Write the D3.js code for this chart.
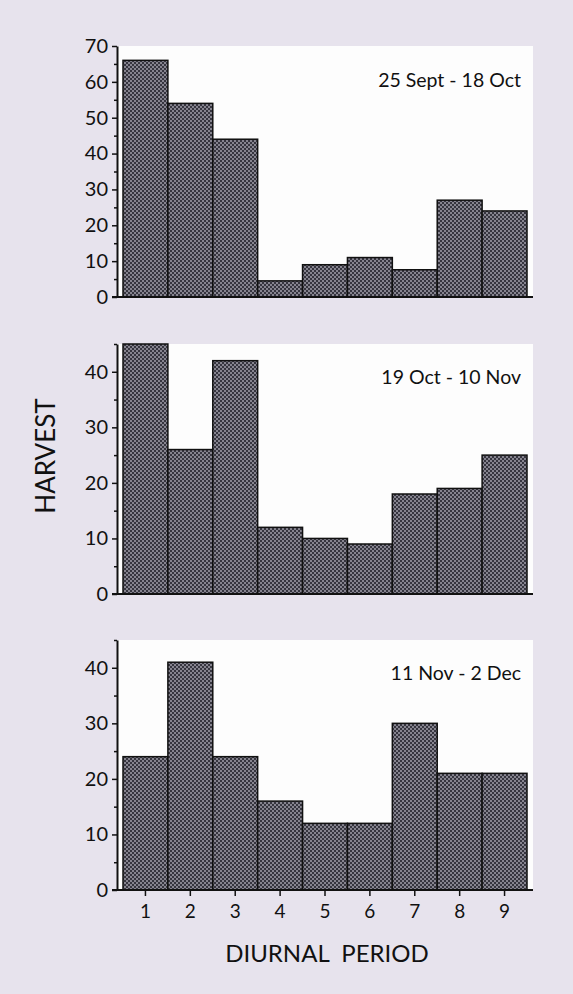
<!DOCTYPE html>
<html>
<head>
<meta charset="utf-8">
<script src="https://cdn.jsdelivr.net/npm/d3@7"></script>
<style>
  body { margin: 0; background: #e7e3ed; }
  svg { display: block; }
  text { font-family: Lato, "Open Sans", sans-serif; fill: #111; }
</style>
</head>
<body>
<svg width="573" height="994"></svg>
<script>
(function (d3) {
    'use strict';

    // diurnal periods (x categories)
    const periods = [1, 2, 3, 4, 5, 6, 7, 8, 9];

    // harvest per period, one series per date window
    const harvestSepOct = [66, 54, 44, 4.5, 9, 11, 7.6, 27, 24];
    const harvestOctNov = [45, 26, 42, 12, 10, 9, 18, 19, 25];
    const harvestNovDec = [24, 41, 24, 16, 12, 12, 30, 21, 21];

    const panelTitles = ['25 Sept - 18 Oct', '19 Oct - 10 Nov', '11 Nov - 2 Dec'];
    const yMaxes = [70, 45, 45];
    const yLabelTicks = [[0, 10, 20, 30, 40, 50, 60, 70], [0, 10, 20, 30, 40], [0, 10, 20, 30, 40]];
    const yMinorTicks = [[5, 15, 25, 35, 45, 55, 65], [5, 15, 25, 35, 45], [5, 15, 25, 35, 45]];

    const series = [harvestSepOct, harvestOctNov, harvestNovDec];

    const svg = d3.select('svg');

    // stippled fill like the scanned print
    const defs = svg.append('defs');
    const pat = defs.append('pattern')
        .attr('id', 'stipple')
        .attr('width', 4).attr('height', 4)
        .attr('patternUnits', 'userSpaceOnUse');
    pat.append('rect').attr('width', 4).attr('height', 4).attr('fill', '#86848f');
    pat.append('rect').attr('width', 2).attr('height', 2).attr('fill', '#36353f');
    pat.append('rect').attr('x', 2).attr('y', 2).attr('width', 2).attr('height', 2).attr('fill', '#36353f');

    const axisX = 117;
    const plotRight = 533;
    const panels = [
        { top: 46, bottom: 297 },
        { top: 344, bottom: 594 },
        { top: 640, bottom: 890 }
    ];

    const x = d3.scaleBand()
        .domain(periods)
        .range([123, 527])
        .padding(0);

    panels.forEach((p, i) => {
        const y = d3.scaleLinear().domain([0, yMaxes[i]]).range([p.bottom, p.top]);
        const g = svg.append('g');

        // white plot area
        g.append('rect')
            .attr('x', axisX + 1).attr('y', p.top)
            .attr('width', plotRight - axisX - 1).attr('height', p.bottom - p.top)
            .attr('fill', '#fdfdfd');

        g.selectAll('rect.bar')
            .data(periods.map((d, j) => ({ period: d, value: series[i][j] })))
            .enter().append('rect')
            .attr('class', 'bar')
            .attr('x', d => x(d.period))
            .attr('y', d => y(d.value))
            .attr('width', x.bandwidth())
            .attr('height', d => p.bottom - y(d.value))
            .attr('fill', 'url(#stipple)')
            .attr('stroke', '#111')
            .attr('stroke-width', 1.5);

        // minor ticks
        g.append('g')
            .attr('transform', `translate(${axisX},0)`)
            .call(d3.axisLeft(y).tickValues(yMinorTicks[i]).tickSize(3).tickFormat(''))
            .call(a => a.select('.domain').remove())
            .call(a => a.selectAll('line').attr('stroke', '#111').attr('stroke-width', 1.5));

        // labelled ticks
        g.append('g')
            .attr('transform', `translate(${axisX},0)`)
            .call(d3.axisLeft(y).tickValues(yLabelTicks[i]).tickSize(5).tickPadding(4).tickSizeOuter(0))
            .call(a => a.select('.domain').attr('stroke', '#111').attr('stroke-width', 2))
            .call(a => a.selectAll('line').attr('stroke', '#111').attr('stroke-width', 1.5))
            .call(a => a.selectAll('text').attr('font-size', 20).attr('font-family', 'Lato, sans-serif').attr('fill', '#111'));

        // baseline
        g.append('line')
            .attr('x1', axisX - 5).attr('x2', plotRight)
            .attr('y1', p.bottom).attr('y2', p.bottom)
            .attr('stroke', '#111').attr('stroke-width', 2);

        g.append('text')
            .attr('x', 521).attr('y', p.top + (i === 0 ? 41 : 40))
            .attr('text-anchor', 'end')
            .attr('font-size', 19.5)
            .text(panelTitles[i]);

        if (i === 2) {
            g.append('g')
                .attr('transform', `translate(0,${p.bottom})`)
                .call(d3.axisBottom(x).tickSize(6).tickPadding(9).tickSizeOuter(0))
                .call(a => a.select('.domain').remove())
                .call(a => a.selectAll('line').attr('stroke', '#111').attr('stroke-width', 1.5))
                .call(a => a.selectAll('text').attr('font-size', 19).attr('font-family', 'Lato, sans-serif').attr('fill', '#111'));
        }
    });

    svg.append('text')
        .attr('transform', 'translate(55,456) rotate(-90)')
        .attr('text-anchor', 'middle')
        .attr('font-size', 26)
        .text('HARVEST');

    svg.append('text')
        .attr('x', 327).attr('y', 962)
        .attr('text-anchor', 'middle')
        .attr('font-size', 24)
        .attr('xml:space', 'preserve')
        .style('white-space', 'pre')
        .text('DIURNAL  PERIOD');
}(d3));
</script>
</body>
</html>
